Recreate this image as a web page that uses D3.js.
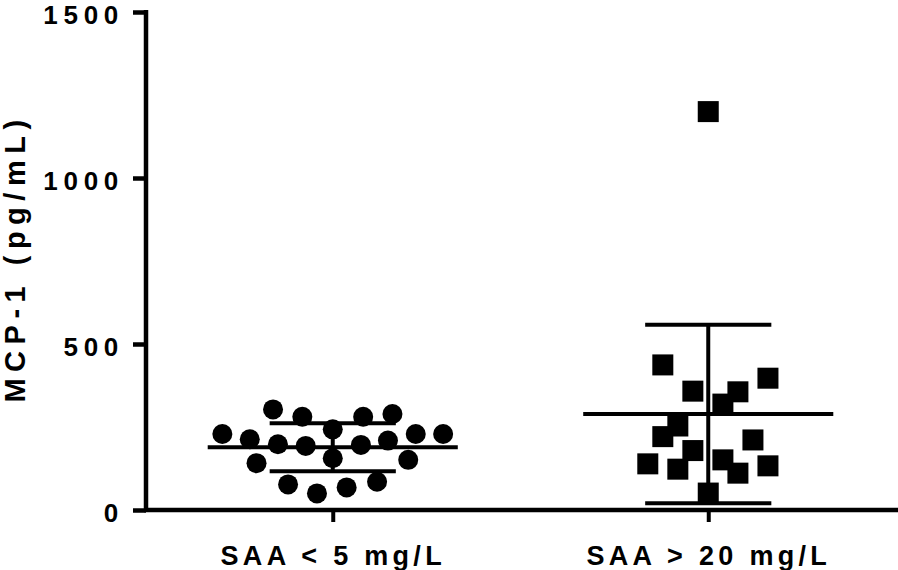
<!DOCTYPE html>
<html>
<head>
<meta charset="utf-8">
<script src="https://cdn.jsdelivr.net/npm/d3@7"></script>
<style>
  html, body { margin: 0; padding: 0; background: #fff; }
  svg { display: block; }
  text { font-family: "Liberation Sans", Arial, sans-serif; font-weight: bold; fill: #000; }
</style>
</head>
<body>
<svg id="chart" width="898" height="570"></svg>
<script>
// ---- Data ----
const categories = ["SAA < 5 mg/L", "SAA > 20 mg/L"];
const yTicks = [0, 500, 1000, 1500];
const yTitle = "MCP-1 (pg/mL)";

// Group 1 (circles): MCP-1 values and horizontal jitter (fraction of category step)
const group1Values = [303, 281, 243, 281, 289, 229, 213, 198, 193, 196, 209, 229, 229, 156, 141, 151, 77, 50, 68, 85];
const group1Jitter = [-0.159, -0.081, 0, 0.081, 0.159, -0.294, -0.221, -0.146, -0.072, 0.075, 0.147, 0.221, 0.294, 0, -0.203, 0.201, -0.119, -0.042, 0.037, 0.118];

// Group 2 (squares)
const group2Values = [437, 358, 397, 356, 319, 253, 221, 179, 211, 139, 123, 151, 111, 133, 51, 1200];
const group2Jitter = [-0.121, -0.041, 0.159, 0.079, 0.039, -0.081, -0.121, -0.041, 0.119, -0.161, -0.081, 0.039, 0.079, 0.159, 0, 0];

// Summary lines: mean and SD per group
const groupMeans = [189, 289];
const groupSDs = [72, 269];

// ---- Layout ----
const svg = d3.select("#chart");
const axisX = 146, axisY = 510, topY = 12, rightX = 898;

const x = d3.scalePoint().domain(categories).range([145, 896]).padding(0.5);
const step = x.step();
const y = d3.scaleLinear().domain([0, 1500]).range([axisY, topY]);

// ---- Axes ----
const yAxis = d3.axisLeft(y).tickValues(yTicks).tickFormat(d3.format("d"))
  .tickSize(13).tickPadding(9).tickSizeOuter(0);
const gy = svg.append("g").attr("transform", `translate(${axisX},0)`).call(yAxis);
gy.select(".domain").attr("stroke", "#000").attr("stroke-width", 4.5).attr("d", `M0,${axisY}V${topY - 2}`);
gy.selectAll(".tick line").attr("stroke", "#000").attr("stroke-width", 4.5);
gy.selectAll(".tick text")
  .attr("dy", "0.44em")
  .style("font-size", "26px")
  .style("letter-spacing", "5.7px")
  .style("font-family", "'Liberation Sans', Arial, sans-serif")
  .style("font-weight", "bold");

const xAxis = d3.axisBottom(x).tickSize(12).tickSizeOuter(0);
const gx = svg.append("g").attr("transform", `translate(0,${axisY})`).call(xAxis);
gx.select(".domain").attr("stroke", "#000").attr("stroke-width", 4.5).attr("d", `M${axisX - 2},0H${rightX}`);
gx.selectAll(".tick line").attr("stroke", "#000").attr("stroke-width", 4);
gx.selectAll(".tick text")
  .attr("y", 55)
  .attr("dy", null)
  .style("font-size", "27px")
  .style("letter-spacing", "4.3px")
  .style("font-family", "'Liberation Sans', Arial, sans-serif")
  .style("font-weight", "bold");

// Y title
svg.append("text")
  .attr("transform", "translate(25,258) rotate(-90)")
  .attr("text-anchor", "middle")
  .style("font-size", "29px")
  .style("letter-spacing", "6.5px")
  .text(yTitle);

// ---- Points ----
const g1 = group1Values.map((v, i) => ({ v, j: group1Jitter[i] }));
const g2 = group2Values.map((v, i) => ({ v, j: group2Jitter[i] }));

svg.append("g").selectAll("circle").data(g1).join("circle")
  .attr("cx", d => x(categories[0]) + d.j * step)
  .attr("cy", d => y(d.v))
  .attr("r", 10)
  .attr("fill", "#000");

const sq = 21;
svg.append("g").selectAll("rect").data(g2).join("rect")
  .attr("x", d => x(categories[1]) + d.j * step - sq / 2)
  .attr("y", d => y(d.v) - sq / 2)
  .attr("width", sq)
  .attr("height", sq)
  .attr("fill", "#000");

// ---- Mean and SD lines ----
const meanHalf = 0.333, capHalf = 0.168;
const summary = svg.append("g").attr("stroke", "#000").attr("stroke-width", 4).attr("fill", "none");
categories.forEach((c, i) => {
  const cx = x(c);
  const m = groupMeans[i], s = groupSDs[i];
  summary.append("line").attr("x1", cx - meanHalf * step).attr("x2", cx + meanHalf * step)
    .attr("y1", y(m)).attr("y2", y(m));
  summary.append("line").attr("x1", cx).attr("x2", cx)
    .attr("y1", y(m + s)).attr("y2", y(Math.max(0, m - s)));
  summary.append("line").attr("x1", cx - capHalf * step).attr("x2", cx + capHalf * step)
    .attr("y1", y(m + s)).attr("y2", y(m + s));
  summary.append("line").attr("x1", cx - capHalf * step).attr("x2", cx + capHalf * step)
    .attr("y1", y(m - s)).attr("y2", y(m - s));
});
</script>
</body>
</html>
